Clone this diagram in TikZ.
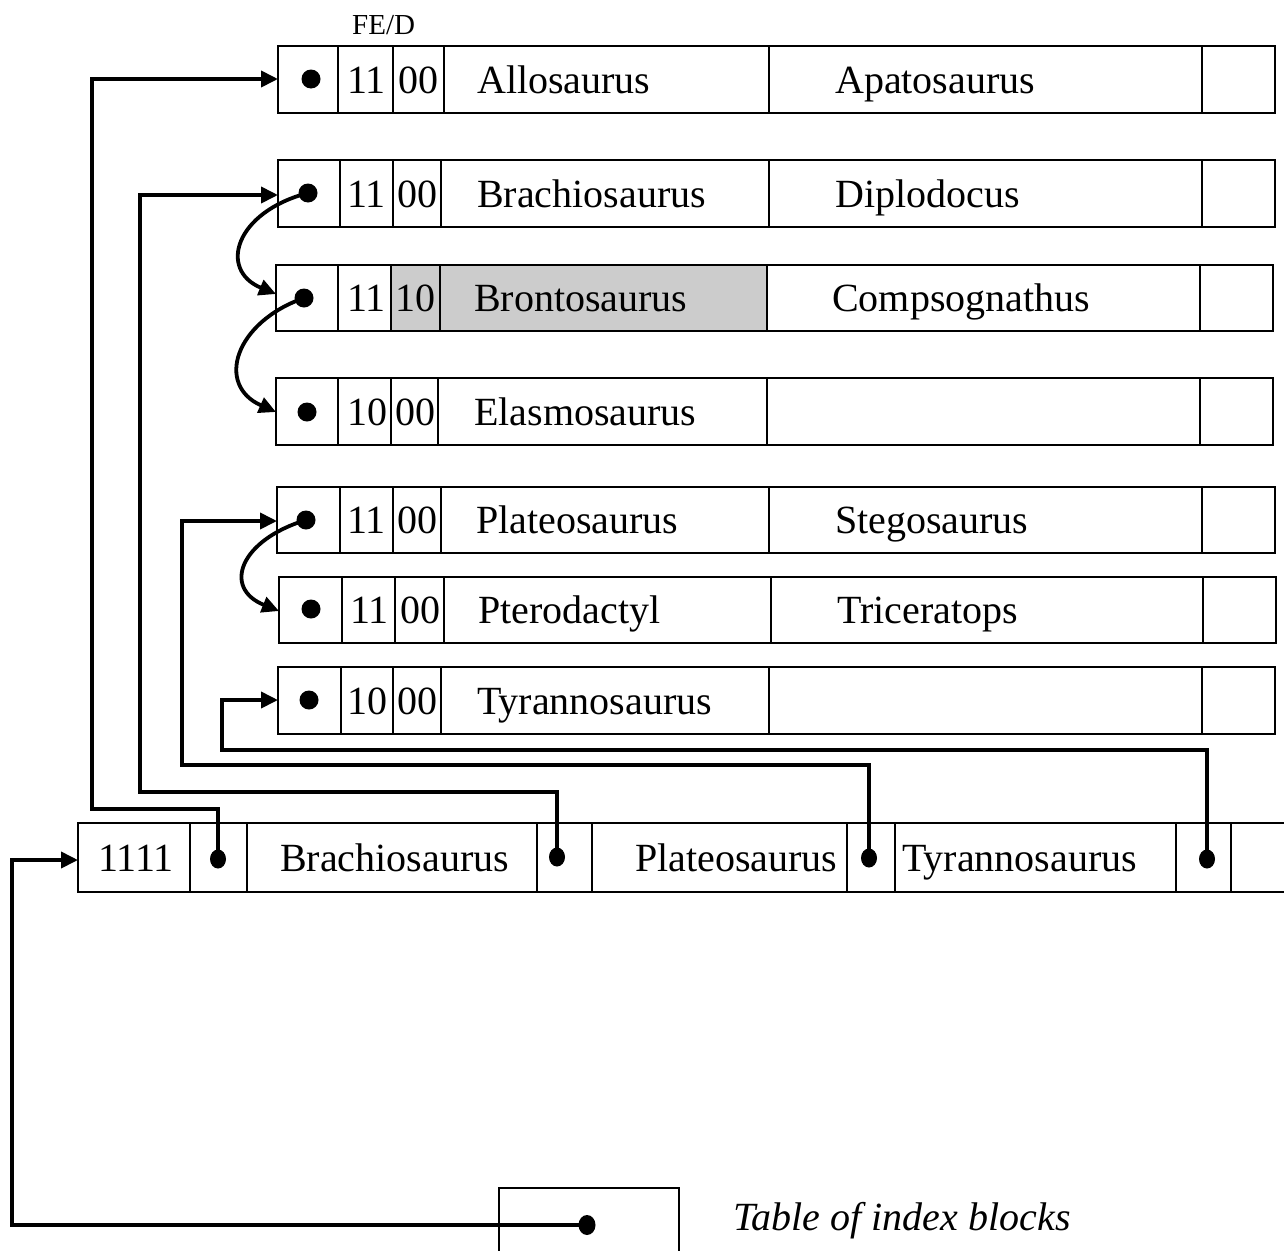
\documentclass[tikz,border=0pt]{standalone}
\usepackage{fontspec}
\setmainfont{Liberation Serif}
\usetikzlibrary{arrows.meta,shapes.geometric}
\definecolor{cellgray}{HTML}{CCCCCC}

\tikzset{
  cell/.style={line width=1.8pt},
  conn/.style={line width=3.8pt, line join=miter},
  tip/.style={-{Triangle[length=17pt,width=16pt]}},
  dot/.style={circle, fill=black, inner sep=0pt, minimum size=19pt},
  idot/.style={ellipse, fill=black, inner sep=0pt, minimum width=16pt, minimum height=19pt},
  lbl/.style={anchor=base west, inner sep=0pt, font=\fontsize{40}{48}\selectfont},
}

% record frame: top, bottom, left, five inner dividers, right
\newcommand\recordrow[9]{%
  \draw[cell] (#3,#1) rectangle (#9,#2);
  \foreach \xx in {#4,#5,#6,#7,#8} \draw[cell] (\xx,#1) -- (\xx,#2);
}

\begin{document}
\begin{tikzpicture}[x=1pt,y=-1pt]
\useasboundingbox (0,0) rectangle (1284,1250);

% ---- data blocks ----
\node[anchor=base west, inner sep=0pt, font=\fontsize{29}{35}\selectfont] (fed) at (352,34) {FE/D};

\recordrow{46}{113}{278}{338}{393}{444}{769}{1202}{1275}
\node[dot] (d1) at (311,79) {};
\node[lbl] (f1) at (347,93) {11};
\node[lbl] (e1) at (398,93) {00};
\node[lbl] (k1a) at (477,93) {Allosaurus};
\node[lbl] (k1b) at (835,93) {Apatosaurus};
\coordinate (in1) at (278,79);

\recordrow{160}{227}{278}{340}{393}{441}{769}{1202}{1275}
\node[dot] (d2) at (308,193) {};
\node[lbl] (f2) at (347,207) {11};
\node[lbl] (e2) at (397,207) {00};
\node[lbl] (k2a) at (477,207) {Brachiosaurus};
\node[lbl] (k2b) at (835,207) {Diplodocus};
\coordinate (in2) at (278,195);

\fill[cellgray] (391,265) rectangle (767,331);
\recordrow{265}{331}{276}{338}{391}{440}{767}{1200}{1273}
\node[dot] (d3) at (304,298) {};
\node[lbl] (f3) at (347,311.5) {11};
\node[lbl] (e3) at (395,311.5) {10};
\node[lbl] (k3a) at (474,311.5) {Brontosaurus};
\node[lbl] (k3b) at (832,311.5) {Compsognathus};
\coordinate (in3) at (276,294);

\recordrow{378}{445}{276}{338}{391}{438}{767}{1200}{1273}
\node[dot] (d4) at (307,412) {};
\node[lbl] (f4) at (347,425) {10};
\node[lbl] (e4) at (395,425) {00};
\node[lbl] (k4a) at (474,425) {Elasmosaurus};
\coordinate (in4) at (276,412);

\recordrow{487}{553}{277}{340}{393}{441}{769}{1202}{1275}
\node[dot] (d5) at (306,520) {};
\node[lbl] (f5) at (347,533.5) {11};
\node[lbl] (e5) at (397,533.5) {00};
\node[lbl] (k5a) at (476,533.5) {Plateosaurus};
\node[lbl] (k5b) at (835,533.5) {Stegosaurus};
\coordinate (in5) at (277,521);

\recordrow{577}{643}{279}{342}{395}{444}{771}{1203}{1276}
\node[dot] (d6) at (311,609) {};
\node[lbl] (f6) at (350,623.5) {11};
\node[lbl] (e6) at (400,623.5) {00};
\node[lbl] (k6a) at (478,623.5) {Pterodactyl};
\node[lbl] (k6b) at (837,623.5) {Triceratops};
\coordinate (in6) at (279,611);

\recordrow{667}{734}{278}{341}{393}{441}{769}{1202}{1275}
\node[dot] (d7) at (309,700) {};
\node[lbl] (f7) at (347,714) {10};
\node[lbl] (e7) at (397,714) {00};
\node[lbl] (k7a) at (477,714) {Tyrannosaurus};
\coordinate (in7) at (278,700);

% ---- chain links between overflow blocks ----
\draw[conn,tip] (d2.center) .. controls (235,212) and (218,270) .. (in3);
\draw[conn,tip] (d3.center) .. controls (235,322) and (215,385) .. (in4);
\draw[conn,tip] (d5.center) .. controls (240,540) and (222,588) .. (in6);

% ---- index block ----
\draw[cell] (1290,823) -- (78,823) -- (78,892) -- (1290,892);
\foreach \xx in {190,247,537,592,847,895,1176,1231}
  \draw[cell] (\xx,823) -- (\xx,892);
\node[lbl] (ix) at (98,871) {1111};
\node[idot] (p1) at (218,859) {};
\node[lbl] (ik1) at (280,871) {Brachiosaurus};
\node[idot] (p2) at (557,857) {};
\node[lbl] (ik2) at (635,871) {Plateosaurus};
\node[idot] (p3) at (869,858) {};
\node[lbl] (ik3) at (902,871) {Tyrannosaurus};
\node[idot] (p4) at (1207,859) {};
\coordinate (ixin) at (78,860);

% pointers from the index block to the data blocks
\coordinate (b1) at (92,809);
\coordinate (b2) at (140,792);
\coordinate (b3) at (182,765);
\coordinate (b4) at (222,750);
\draw[conn,tip] (p1.center) |- (b1) |- (in1);
\draw[conn,tip] (p2.center) |- (b2) |- (in2);
\draw[conn,tip] (p3.center) |- (b3) |- (in5);
\draw[conn,tip] (p4.center) |- (b4) |- (in7);

% ---- table of index blocks ----
\draw[cell] (499,1255) -- (499,1188) -- (679,1188) -- (679,1255);
\node[idot, minimum width=17pt, minimum height=20pt] (tp) at (587,1225) {};
\coordinate (tb1) at (12,1225);
\coordinate (tb2) at (12,860);
\draw[conn,tip] (tp.center) -- (tb1) -- (tb2) -- (ixin);
\node[anchor=base west, inner sep=0pt, font=\fontsize{40}{48}\selectfont\itshape] (cap) at (733,1230) {Table of index blocks};
\end{tikzpicture}
\end{document}
